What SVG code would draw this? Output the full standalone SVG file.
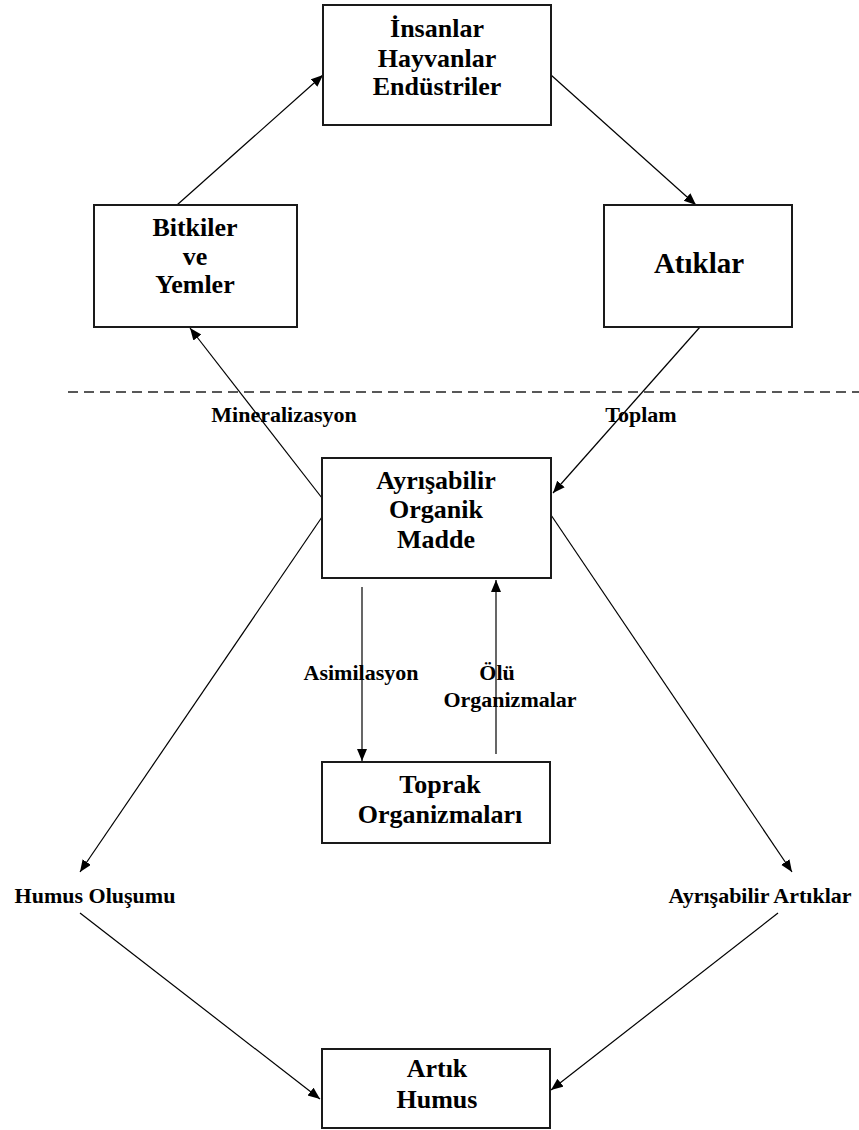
<svg xmlns="http://www.w3.org/2000/svg" width="859" height="1130" viewBox="0 0 859 1130">
<style>
.box{fill:#fff;stroke:#1a1a1a;stroke-width:2}
.t{font-family:"Liberation Serif","Times New Roman",serif;font-weight:bold;font-size:26px;fill:#000;text-anchor:middle}
.big{font-size:29px}
.lbl{font-family:"Liberation Serif","Times New Roman",serif;font-weight:bold;font-size:22px;fill:#000;text-anchor:middle}
.c{stroke:#000;stroke-width:1.2;fill:none;marker-end:url(#ah)}
.dash{stroke:#222;stroke-width:1.5;stroke-dasharray:10 6;fill:none}
</style>
<defs>
<marker id="ah" markerUnits="userSpaceOnUse" markerWidth="13" markerHeight="11" refX="12" refY="5" orient="auto">
<path d="M0,0 L12,5 L0,10 z" fill="#000"/>
</marker>
</defs>
<rect width="859" height="1130" fill="#fff"/>
<line class="dash" x1="68" y1="392" x2="859" y2="392"/>
<g id="connectors">
<line class="c" x1="177" y1="205" x2="323" y2="75"/>
<line class="c" x1="551" y1="75" x2="696" y2="205"/>
<line class="c" x1="700" y1="327" x2="553" y2="493"/>
<line class="c" x1="322" y1="498" x2="190" y2="328"/>
<line class="c" x1="322" y1="517" x2="80" y2="872"/>
<line class="c" x1="551" y1="515" x2="792" y2="872"/>
<line class="c" x1="80" y1="913" x2="320" y2="1099"/>
<line class="c" x1="778" y1="913" x2="551" y2="1090"/>
<line class="c" x1="362" y1="587" x2="362" y2="761"/>
<line class="c" x1="496" y1="754" x2="496" y2="580"/>
<text class="lbl" x="284" y="422">Mineralizasyon</text>
<text class="lbl" x="641" y="422">Toplam</text>
<text class="lbl" x="361" y="680">Asimilasyon</text>
<text class="lbl" x="497" y="680">Ölü</text>
<text class="lbl" x="510" y="707">Organizmalar</text>
</g>
<g id="insanlar">
<rect class="box" x="323" y="5" width="228" height="120"/>
<text class="t" x="437" y="37">İnsanlar</text>
<text class="t" x="437" y="67">Hayvanlar</text>
<text class="t" x="437" y="95">Endüstriler</text>
</g>
<g id="bitkiler">
<rect class="box" x="94" y="205" width="203" height="122"/>
<text class="t" x="195" y="236">Bitkiler</text>
<text class="t" x="195" y="265">ve</text>
<text class="t" x="195" y="293">Yemler</text>
</g>
<g id="atiklar">
<rect class="box" x="604" y="205" width="188" height="122"/>
<text class="t big" x="699" y="273">Atıklar</text>
</g>
<g id="ayrisabilir">
<rect class="box" x="322" y="458" width="229" height="120"/>
<text class="t" x="436" y="489">Ayrışabilir</text>
<text class="t" x="436" y="518">Organik</text>
<text class="t" x="436" y="548">Madde</text>
</g>
<g id="toprak">
<rect class="box" x="322" y="762" width="228" height="81"/>
<text class="t" x="440" y="793">Toprak</text>
<text class="t" x="440" y="823">Organizmaları</text>
</g>
<g id="humus-olusumu">
<text class="lbl" x="95" y="903">Humus Oluşumu</text>
</g>
<g id="ayrisabilir-artiklar">
<text class="lbl" x="760" y="903">Ayrışabilir Artıklar</text>
</g>
<g id="artik-humus">
<rect class="box" x="322" y="1049" width="228" height="79"/>
<text class="t" x="437" y="1077">Artık</text>
<text class="t" x="437" y="1108">Humus</text>
</g>
</svg>
